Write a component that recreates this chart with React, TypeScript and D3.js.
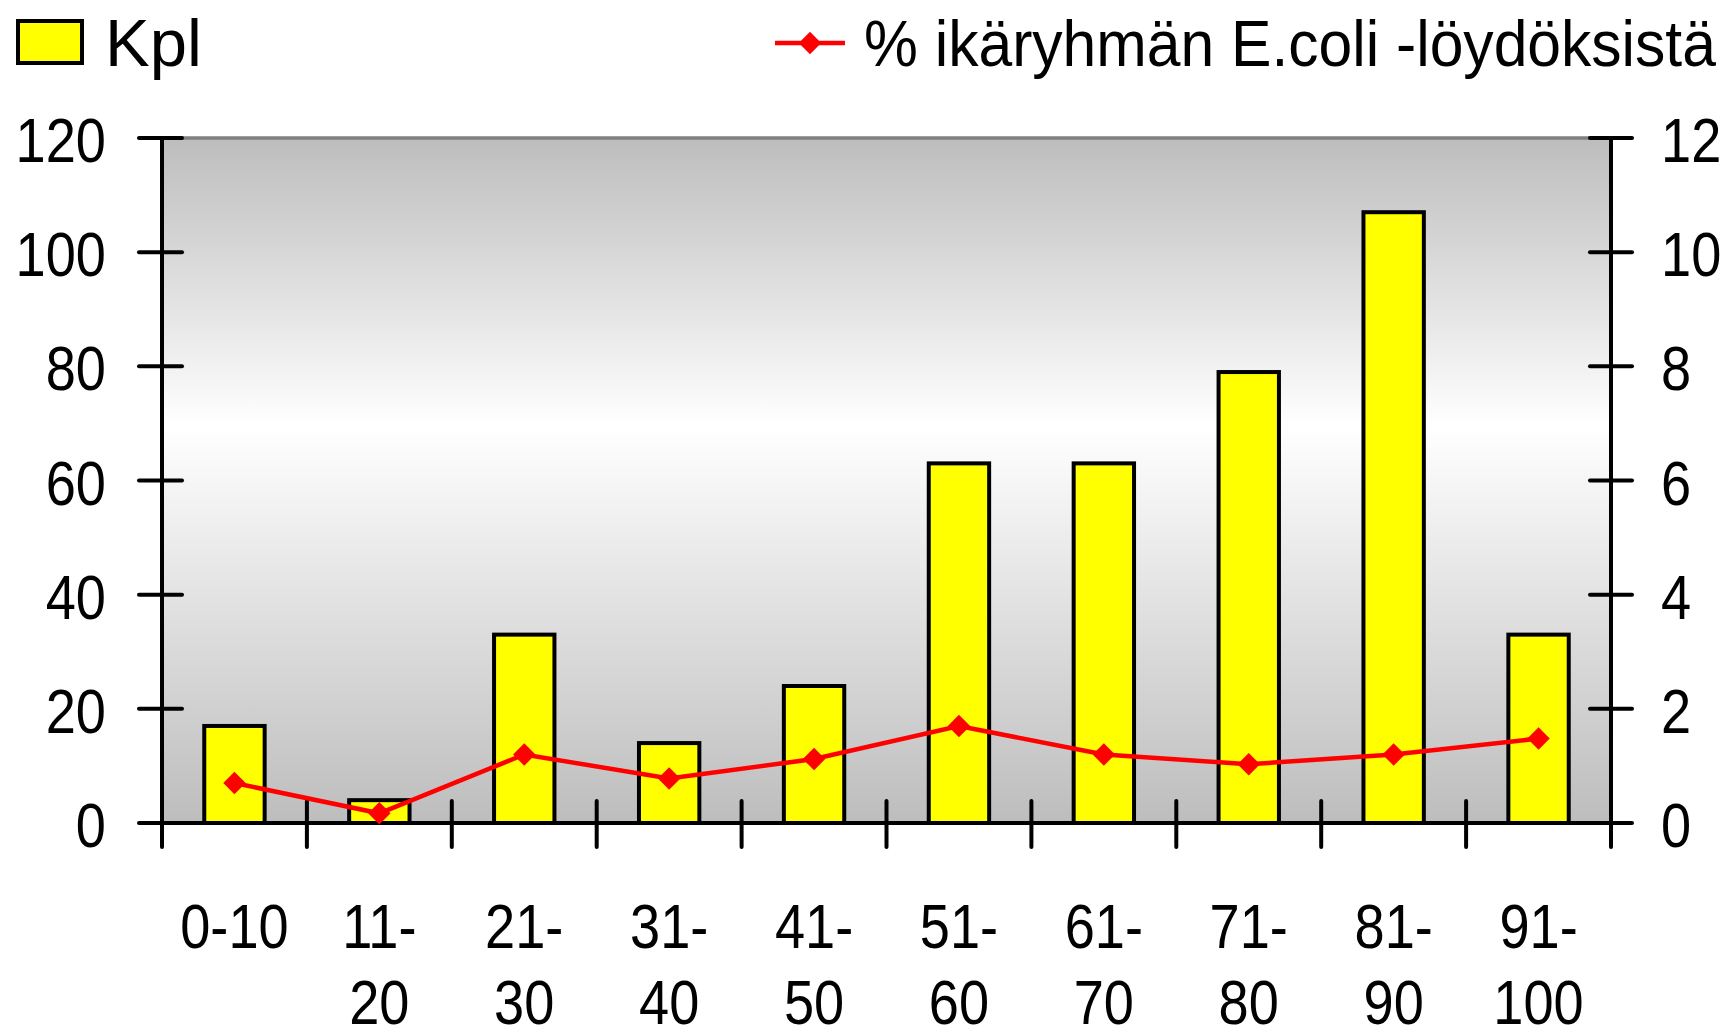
import React, { useEffect, useRef } from 'react';
import * as d3 from 'd3';

const ageGroups = ['0-10', '11-20', '21-30', '31-40', '41-50', '51-60', '61-70', '71-80', '81-90', '91-100'];
const counts = [17, 4, 33, 14, 24, 63, 63, 79, 107, 33];
const percents = [0.7, 0.17, 1.2, 0.78, 1.12, 1.7, 1.2, 1.03, 1.2, 1.48];
const leftTicks = [0, 20, 40, 60, 80, 100, 120];
const rightTicks = [0, 2, 4, 6, 8, 10, 12];
const barLabel = 'Kpl';
const lineLabel = '% ikäryhmän E.coli -löydöksistä';

const App: React.FC = () => {
    const svgRef = useRef<SVGSVGElement | null>(null);

    useEffect(() => {
        const svg = d3.select(svgRef.current);
        svg.selectAll('*').remove();

        const width = 1733;
        const height = 1036;
        const margin = { top: 138, right: 122, bottom: 213, left: 162 };
        const font = '"Liberation Sans", Arial, sans-serif';
        const fontSize = 63;
        const squeeze = 0.86;

        const x = d3.scaleBand()
            .domain(ageGroups)
            .range([margin.left, width - margin.right])
            .paddingInner(0)
            .paddingOuter(0);

        const yLeft = d3.scaleLinear().domain([0, 120]).range([height - margin.bottom, margin.top]);
        const yRight = d3.scaleLinear().domain([0, 12]).range([height - margin.bottom, margin.top]);

        // background gradient
        const defs = svg.append('defs');
        const grad = defs.append('linearGradient')
            .attr('id', 'bg')
            .attr('x1', 0).attr('y1', 0).attr('x2', 0).attr('y2', 1);
        grad.append('stop').attr('offset', '0%').attr('stop-color', '#bdbdbd');
        grad.append('stop').attr('offset', '42%').attr('stop-color', '#ffffff');
        grad.append('stop').attr('offset', '100%').attr('stop-color', '#bdbdbd');

        const plotW = width - margin.left - margin.right;
        const plotH = height - margin.top - margin.bottom;

        svg.append('rect')
            .attr('x', margin.left)
            .attr('y', margin.top)
            .attr('width', plotW)
            .attr('height', plotH)
            .attr('fill', 'url(#bg)');

        svg.append('line')
            .attr('x1', margin.left).attr('x2', width - margin.right)
            .attr('y1', margin.top).attr('y2', margin.top)
            .attr('stroke', '#808080').attr('stroke-width', 3.5);

        // bars
        const barW = x.bandwidth() / 2.4;
        svg.append('g')
            .selectAll('rect')
            .data(counts)
            .enter()
            .append('rect')
            .attr('x', (d, i) => x(ageGroups[i])! + (x.bandwidth() - barW) / 2)
            .attr('y', d => yLeft(d))
            .attr('width', barW)
            .attr('height', d => yLeft(0) - yLeft(d))
            .attr('fill', '#ffff00')
            .attr('stroke', '#000')
            .attr('stroke-width', 4);

        // axes
        const axisG = svg.append('g').attr('stroke', '#000').attr('stroke-width', 4);
        axisG.append('line')
            .attr('x1', margin.left).attr('x2', margin.left)
            .attr('y1', margin.top).attr('y2', height - margin.bottom);
        axisG.append('line')
            .attr('x1', width - margin.right).attr('x2', width - margin.right)
            .attr('y1', margin.top).attr('y2', height - margin.bottom);
        axisG.append('line')
            .attr('x1', margin.left).attr('x2', width - margin.right)
            .attr('y1', yLeft(0)).attr('y2', yLeft(0));

        const tickG = svg.append('g').attr('stroke', '#000').attr('stroke-width', 4).attr('stroke-linecap', 'round');
        leftTicks.forEach(t => {
            tickG.append('line')
                .attr('x1', margin.left - 23).attr('x2', margin.left + 20)
                .attr('y1', yLeft(t)).attr('y2', yLeft(t));
        });
        rightTicks.forEach(t => {
            tickG.append('line')
                .attr('x1', width - margin.right - 21).attr('x2', width - margin.right + 21)
                .attr('y1', yRight(t)).attr('y2', yRight(t));
        });
        const boundaries = ageGroups.map(g => x(g)!).concat([width - margin.right]);
        boundaries.forEach(b => {
            tickG.append('line')
                .attr('x1', b).attr('x2', b)
                .attr('y1', yLeft(0) - 22).attr('y2', yLeft(0) + 24);
        });

        // tick labels
        const textG = svg.append('g')
            .attr('font-family', font)
            .attr('font-size', fontSize)
            .attr('fill', '#000');

        const label = (tx: number, ty: number, s: string, anchor: string) =>
            textG.append('text')
                .attr('transform', `translate(${tx},${ty}) scale(${squeeze},1)`)
                .attr('text-anchor', anchor)
                .text(s);

        leftTicks.forEach(t => {
            label(margin.left - 56, yLeft(t) + 24, String(t), 'end');
        });
        rightTicks.forEach(t => {
            label(width - margin.right + 50, yRight(t) + 24, String(t), 'start');
        });

        ageGroups.forEach(g => {
            const cx = x(g)! + x.bandwidth() / 2;
            const parts = g === '0-10' ? ['0-10'] : [g.split('-')[0] + '-', g.split('-')[1]];
            parts.forEach((p, k) => {
                label(cx, 948 + k * 76, p, 'middle');
            });
        });

        // line series
        const line = d3.line<number>()
            .x((d, i) => x(ageGroups[i])! + x.bandwidth() / 2)
            .y(d => yRight(d));

        svg.append('path')
            .datum(percents)
            .attr('d', line)
            .attr('fill', 'none')
            .attr('stroke', '#ff0000')
            .attr('stroke-width', 4.5);

        const diamond = d3.symbol().type(d3.symbolDiamond2).size(320);
        svg.append('g')
            .selectAll('path')
            .data(percents)
            .enter()
            .append('path')
            .attr('d', diamond)
            .attr('transform', (d, i) => `translate(${x(ageGroups[i])! + x.bandwidth() / 2},${yRight(d)})`)
            .attr('fill', '#ff0000');

        // legend
        const legend = svg.append('g');
        legend.append('rect')
            .attr('x', 18).attr('y', 21)
            .attr('width', 64).attr('height', 42)
            .attr('fill', '#ffff00')
            .attr('stroke', '#000')
            .attr('stroke-width', 4);
        legend.append('text')
            .attr('x', 105).attr('y', 66)
            .attr('font-family', font)
            .attr('font-size', 67)
            .text(barLabel);

        legend.append('line')
            .attr('x1', 775).attr('x2', 845)
            .attr('y1', 43).attr('y2', 43)
            .attr('stroke', '#ff0000').attr('stroke-width', 4.5);
        legend.append('path')
            .attr('d', diamond)
            .attr('transform', 'translate(810,43)')
            .attr('fill', '#ff0000');
        const lineText = legend.append('text')
            .attr('font-family', font)
            .attr('font-size', 64)
            .text(lineLabel);
        // squeeze the long label so it ends where the reference's does
        const natural = (lineText.node() as SVGTextElement).getComputedTextLength() || 852;
        const sx = Math.min(1, 852 / natural);
        lineText.attr('transform', `translate(864,66) scale(${sx},1)`);
    }, []);

    return (
        <svg
            ref={svgRef}
            width={1733}
            height={1036}
            style={{ position: 'absolute', left: 0, top: 0, display: 'block', background: '#fff' }}
        ></svg>
    );
};

export default App;
